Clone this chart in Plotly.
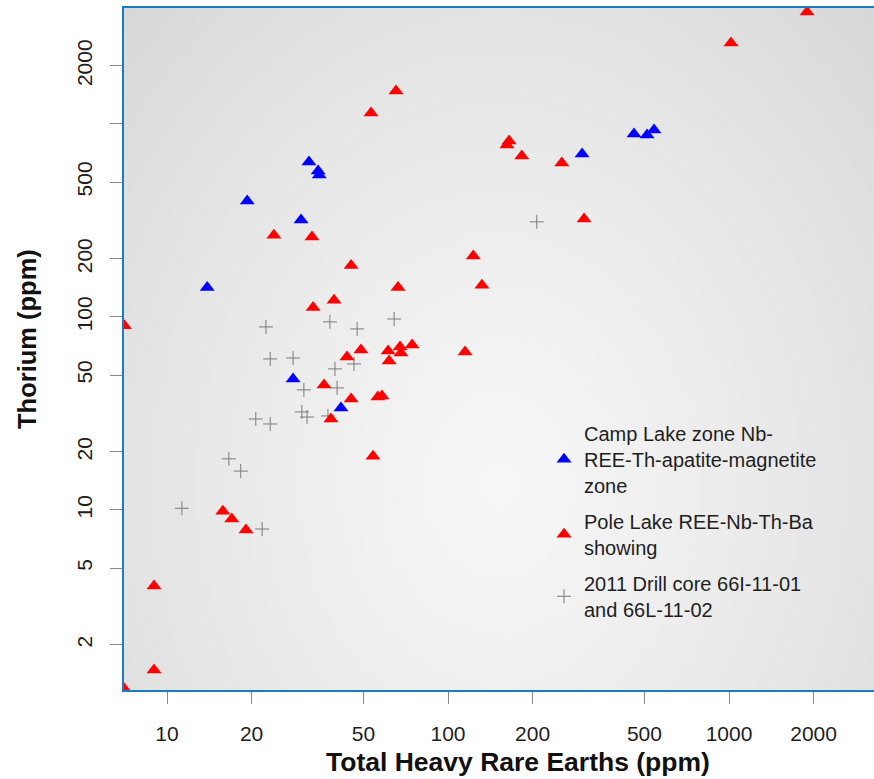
import base64, struct, zlib, math
import plotly.graph_objects as go

# ---------------- data ----------------
camp_x = [32.0, 34.5, 34.8, 19.3, 30.0, 13.9, 28.1, 41.6, 300, 459, 511, 541]
camp_y = [635, 571, 544, 399, 318, 142, 47.7, 33.8, 699, 887, 876, 930]

pole_x = [1895, 1016, 65.3, 53.2, 165, 162, 183, 254, 305, 24.0, 32.8, 123, 45.2, 132,
          66.4, 39.3, 33.1, 7.05, 43.7, 49.0, 61.2, 67.5, 74.5, 68.0, 61.7, 115, 36.2,
          45.2, 58.2, 56.3, 38.3, 54.1, 15.8, 17.0, 19.1, 8.99, 8.99, 7.05]
pole_y = [3800, 2627, 1481, 1139, 816, 778, 682, 628, 322, 265, 260, 207, 185, 146,
          142, 122, 112, 90, 62.1, 67.4, 66.7, 69.9, 71.5, 65.1, 59.1, 65.9, 44.4,
          37.6, 38.9, 38.5, 29.6, 19.0, 9.86, 8.98, 7.88, 4.04, 1.48, 1.18]

core_x = [207, 22.5, 38.0, 47.5, 64.3, 23.3, 28.1, 39.6, 46.3, 30.7, 40.3, 30.2, 31.5,
          20.7, 23.3, 37.4, 16.6, 18.3, 11.3, 21.8]
core_y = [311, 88.8, 94.3, 86.7, 97.6, 60.6, 61.3, 53.8, 57.1, 41.9, 42.9, 32.2, 30.3,
          29.6, 27.9, 30.7, 18.4, 15.9, 10.2, 7.97]

x_ticks = [10, 20, 50, 100, 200, 500, 1000, 2000]
x_ticktext = ["10", "20", "50", "100", "200", "500", "1000", "2000"]
y_ticks = [2, 5, 10, 20, 50, 100, 200, 500, 1000, 2000]
y_ticktext = ["2", "5", "10", "20", "50", "100", "200", "500", "", "2000"]

names = ["Camp Lake zone Nb-<br>REE-Th-apatite-magnetite<br>zone",
         "Pole Lake REE-Nb-Th-Ba<br>showing",
         "2011 Drill core 66I-11-01<br>and 66L-11-02"]

FONT = "Liberation Sans, Arial, sans-serif"

# ------------- background gradient image -------------
def make_png(w, h):
    rows = []
    for j in range(h):
        fy = j / (h - 1)
        row = bytearray([0])
        for i in range(w):
            fx = i / (w - 1)
            d = math.sqrt(((fx - 0.5) / 0.62) ** 2 + ((fy - 0.7) / 0.85) ** 2)
            g = 246 - 25 * min(d, 1.25) ** 1.3
            row.append(max(216, min(250, int(round(g)))))
        rows.append(bytes(row))
    raw = b"".join(rows)

    def chunk(t, d):
        c = struct.pack(">I", len(d)) + t + d
        return c + struct.pack(">I", zlib.crc32(t + d) & 0xFFFFFFFF)

    return (b"\x89PNG\r\n\x1a\n"
            + chunk(b"IHDR", struct.pack(">IIBBBBB", w, h, 8, 0, 0, 0, 0))
            + chunk(b"IDAT", zlib.compress(raw, 9))
            + chunk(b"IEND", b""))

bg_src = "data:image/png;base64," + base64.b64encode(make_png(160, 150)).decode()

fig = go.Figure()
fig.add_trace(go.Scatter(
    x=core_x, y=core_y, mode="markers", name=names[2], legendrank=3, legendgroup="c",
    marker=dict(symbol="cross-thin-open", size=10, line=dict(color="#7a7a7a", width=1), color="#7a7a7a"),
))
fig.add_trace(go.Scatter(
    x=camp_x, y=camp_y, mode="markers", name=names[0], legendrank=1, legendgroup="a",
    marker=dict(symbol="triangle-up", size=13, color="#0000ff", line=dict(width=0)),
))
fig.add_trace(go.Scatter(
    x=pole_x, y=pole_y, mode="markers", name=names[1], legendrank=2, legendgroup="b",
    marker=dict(symbol="triangle-up", size=13, color="#ff0000", line=dict(width=0)),
))

axis_common = dict(
    type="log", showgrid=False, zeroline=False, ticks="outside", ticklen=12,
    tickcolor="#8a8a8a", tickwidth=1, showline=True, linecolor="#1a7cc1", linewidth=2,
    tickfont=dict(family=FONT, size=21, color="#1e1e1e"),
)

fig.update_layout(
    width=874, height=779,
    margin=dict(l=124, r=0, t=8, b=89),
    paper_bgcolor="white", plot_bgcolor="#e8e8e8",
    xaxis=dict(**axis_common, range=[math.log10(7.03), math.log10(3281)],
               tickvals=x_ticks, ticktext=x_ticktext, mirror=True, ticklabelstandoff=12),
    yaxis=dict(**axis_common, range=[math.log10(1.167), math.log10(3990)],
               tickvals=y_ticks, ticktext=y_ticktext, tickangle=-90, mirror=False,
               ticklabelstandoff=10),
    showlegend=True,
    legend=dict(x=0.56, y=0.405, xanchor="left", yanchor="top", bgcolor="rgba(0,0,0,0)",
                font=dict(family=FONT, size=20, color="#1e1e1e"), tracegroupgap=7,
                traceorder="grouped"),
    images=[dict(source=bg_src, xref="paper", yref="paper", x=0, y=1, sizex=1, sizey=1,
                 xanchor="left", yanchor="top", sizing="stretch", layer="below")],
    annotations=[
        dict(text="<b>Total Heavy Rare Earths (ppm)</b>", xref="paper", yref="paper",
             x=0.525, y=-0.1056, xanchor="center", yanchor="middle", showarrow=False,
             font=dict(family=FONT, size=26.5, color="#111111")),
        dict(text="<b>Thorium (ppm)</b>", xref="paper", yref="paper",
             x=-0.129, y=0.515, xanchor="center", yanchor="middle", showarrow=False,
             textangle=-90, font=dict(family=FONT, size=25.5, color="#111111")),
    ],
)

fig.write_html("out.html", config={"displayModeBar": False},
               post_script="document.body.style.margin='0';document.body.style.overflow='hidden';")
